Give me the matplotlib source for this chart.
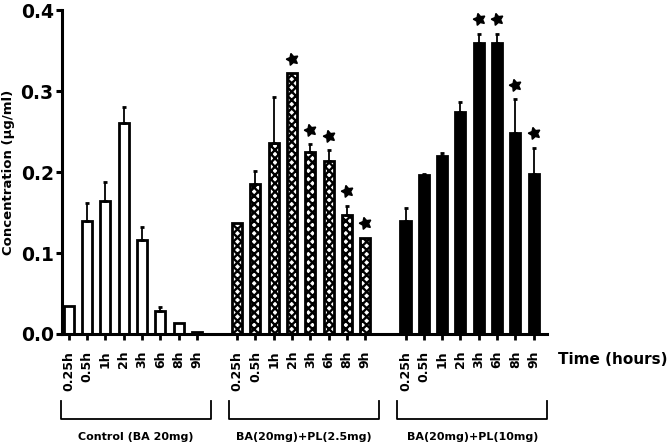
import numpy as np
import matplotlib
matplotlib.use("Agg")
import matplotlib.pyplot as plt
import matplotlib.transforms as mtransforms

# data (concentration in ug/ml)
times = ['0.25h', '0.5h', '1h', '2h', '3h', '6h', '8h', '9h']
groups = ['Control (BA 20mg)', 'BA(20mg)+PL(2.5mg)', 'BA(20mg)+PL(10mg)']

control = [0.035, 0.140, 0.164, 0.260, 0.116, 0.028, 0.014, 0.002]
control_err = [0, 0.022, 0.024, 0.020, 0.016, 0.005, 0, 0]

pl25 = [0.137, 0.185, 0.236, 0.322, 0.225, 0.214, 0.147, 0.119]
pl25_err = [0, 0.016, 0.057, 0, 0.009, 0.013, 0.011, 0]
pl25_sig = [0, 0, 0, 1, 1, 1, 1, 1]

pl10 = [0.140, 0.196, 0.220, 0.274, 0.359, 0.359, 0.248, 0.198]
pl10_err = [0.016, 0.001, 0.003, 0.012, 0.012, 0.012, 0.042, 0.032]
pl10_sig = [0, 0, 0, 0, 1, 1, 1, 1]

plt.rcParams['font.family'] = 'DejaVu Sans'
plt.rcParams['font.weight'] = 'bold'
plt.rcParams['hatch.linewidth'] = 1.7

fig = plt.figure(figsize=(6.71, 4.47), dpi=100)
ax = fig.add_axes([0.0924, 0.2528, 0.7228, 0.7248])

n = len(times)
gap = 2.2
width = 0.55
styles = [dict(facecolor='white', hatch=None),
          dict(facecolor='white', hatch='xxxx'),
          dict(facecolor='black', hatch=None)]
series = [(control, control_err, [0] * n),
          (pl25, pl25_err, pl25_sig),
          (pl10, pl10_err, pl10_sig)]

positions = []
for g, (vals, errs, sig) in enumerate(series):
    x = np.arange(n) + g * (n - 1 + gap)
    positions.extend(x)
    vals = np.array(vals)
    errs = np.array(errs)
    ax.bar(x, vals, width=width, edgecolor='black', linewidth=2.0,
           zorder=2, **styles[g])
    has = errs > 0
    ax.errorbar(x[has], vals[has], yerr=[np.zeros(has.sum()), errs[has]],
                fmt='none', ecolor='black', elinewidth=1.3, capsize=1.6,
                capthick=2.0, zorder=3)
    s = np.array(sig) > 0
    ax.plot(x[s], vals[s] + errs[s] + 0.018, linestyle='none',
            marker=(5, 1, 15), markersize=9, color='black', zorder=4,
            clip_on=False)

    # group bracket under the tick labels
    tr = mtransforms.blended_transform_factory(ax.transData, ax.transAxes)
    x0, x1 = x[0] - 0.45, x[-1] + 0.75
    ax.plot([x0, x0, x1, x1], [-0.207, -0.262, -0.262, -0.207], color='black',
            linewidth=1.3, transform=tr, clip_on=False)
    ax.text((x0 + x1) / 2, -0.318, groups[g], transform=tr, ha='center',
            va='center', fontsize=8, fontweight='bold')

ax.set_xlim(-0.37, positions[-1] + 0.73)
ax.set_ylim(0, 0.4)
ax.set_xticks(positions)
ax.set_xticklabels(times * 3, rotation=90, fontsize=9, fontweight='bold')
ax.set_yticks([0.0, 0.1, 0.2, 0.3, 0.4])
ax.set_yticklabels(['0.0', '0.1', '0.2', '0.3', '0.4'], fontsize=13.5,
                   fontweight='bold')
ax.tick_params(axis='x', length=4, width=2, pad=8)
ax.tick_params(axis='y', length=4, width=2.2, pad=2)
ax.set_ylabel('Concentration (\u00b5g/ml)', fontsize=9.5, fontweight='bold',
              labelpad=4)

for side in ['top', 'right']:
    ax.spines[side].set_visible(False)
for side in ['left', 'bottom']:
    ax.spines[side].set_linewidth(2.2)

ax.text(1.135, -0.08, 'Time (hours)', transform=ax.transAxes, ha='center',
        va='center', fontsize=11, fontweight='bold')

fig.savefig('out.png', dpi=100)
